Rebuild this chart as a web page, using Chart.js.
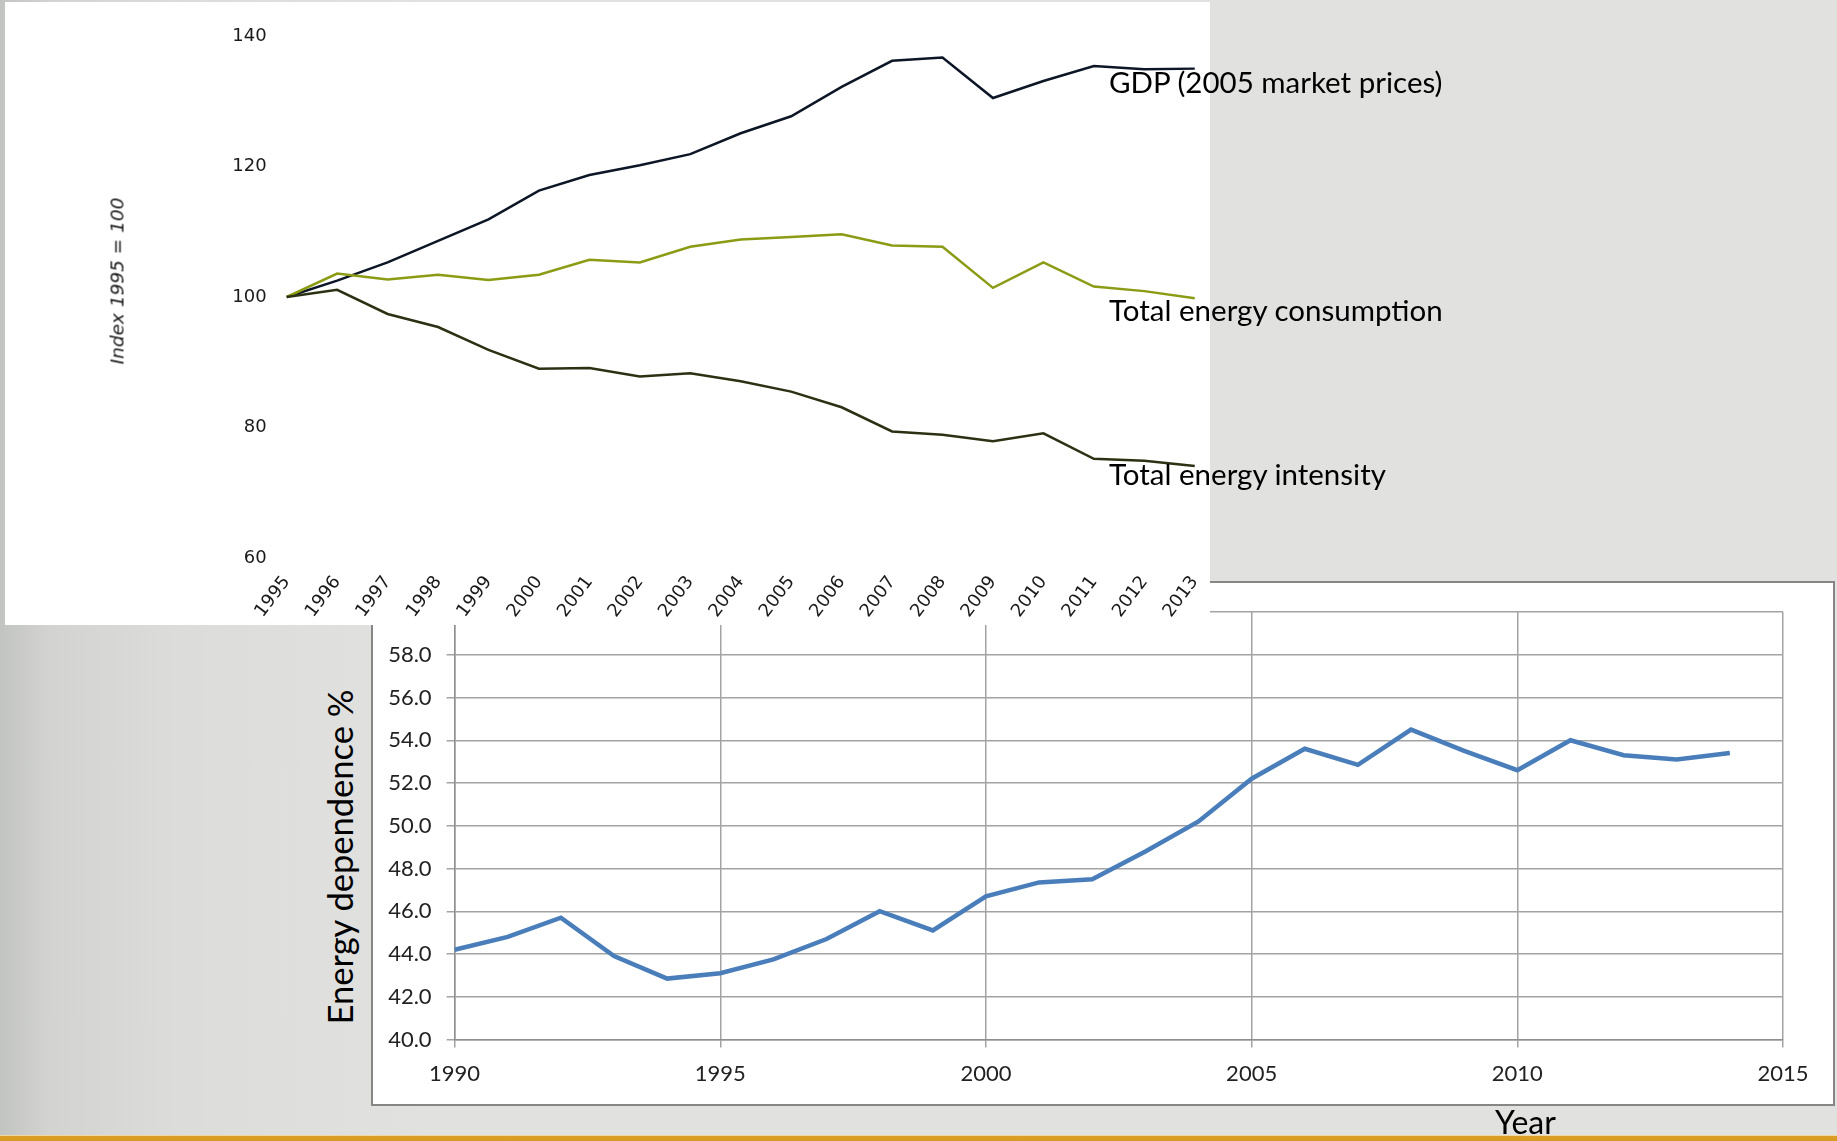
<!DOCTYPE html>
<html>
<head>
<meta charset="utf-8">
<script src="https://cdn.jsdelivr.net/npm/chart.js@4.4.1/dist/chart.umd.min.js"></script>
<style>
  html, body { margin: 0; padding: 0; }
  body {
    width: 1837px; height: 1141px; position: relative; overflow: hidden;
    background: linear-gradient(to right, #c2c4c2 0px, #d3d4d2 50px, #dcdddb 180px, #e1e2e0 420px, #e1e2e0 100%);
  }
  #indexBox { position: absolute; left: 5px; top: 2px; width: 1205px; height: 623px; background: #fff; z-index: 2; }
  /* canvas is a little wider than the white box so the rotated labels don't squeeze the plot */
  #indexWrap { position: absolute; left: 5px; top: 2px; width: 1221px; height: 623px; z-index: 3; }
  #depBox {
    position: absolute; left: 371px; top: 581px; width: 1464px; height: 525px;
    box-sizing: border-box; border: 2px solid #868686; background: #fff; z-index: 1;
  }
  .note { position: absolute; font-family: Lato, sans-serif; color: #000; white-space: nowrap; line-height: 1; z-index: 5; }
  .vtitle { position: absolute; white-space: nowrap; line-height: 1; transform: translate(-50%, -50%) rotate(-90deg); }
  #stripe {
    position: absolute; left: 0; top: 1135px; width: 1837px; height: 6px; z-index: 6;
    background: linear-gradient(#efd8a2 0px, #efd8a2 1px, #dc9e26 1px, #d99a1f 100%);
  }
</style>
</head>
<body>

<div id="depBox"><canvas id="dependenceChart"></canvas></div>
<div id="indexBox"></div>
<div id="indexWrap"><canvas id="indexChart"></canvas></div>

<div class="vtitle" style="left:117px; top:281px; z-index:4; font: italic 18.5px 'DejaVu Sans'; color:#1a1a1a;">Index 1995 = 100</div>
<div class="vtitle" style="left:339px; top:857px; z-index:4; font: 34.5px Lato; color:#000;">Energy dependence %</div>

<div class="note" style="left:1109px; top:67px; font-size:29.5px;">GDP (2005 market prices)</div>
<div class="note" style="left:1109px; top:295px; font-size:29.5px;">Total energy consumption</div>
<div class="note" style="left:1109px; top:459px; font-size:29.5px;">Total energy intensity</div>
<div class="note" style="left:1495px; top:1106px; font-size:32px;">Year</div>

<div id="stripe"></div>

<script>
// top chart: index 1995 = 100
const indexYears = ['1995', '1996', '1997', '1998', '1999', '2000', '2001', '2002', '2003', '2004',
    '2005', '2006', '2007', '2008', '2009', '2010', '2011', '2012', '2013'];
const gdp = [100, 102.5, 105.3, 108.6, 111.9, 116.3, 118.7, 120.2, 121.9, 125.1,
    127.7, 132.2, 136.2, 136.7, 130.5, 133.1, 135.4, 134.9, 135.0];
const energyConsumption = [100, 103.6, 102.7, 103.4, 102.6, 103.4, 105.7, 105.3, 107.7, 108.8,
    109.2, 109.6, 107.9, 107.7, 101.4, 105.3, 101.6, 100.9, 99.8];
const energyIntensity = [100, 101.1, 97.4, 95.4, 91.9, 89.0, 89.1, 87.8, 88.3, 87.1,
    85.5, 83.1, 79.4, 78.9, 77.9, 79.1, 75.2, 74.9, 74.1];
const indexTicks = [60, 80, 100, 120, 140];

// bottom chart: energy dependence
const depYears = [1990, 1991, 1992, 1993, 1994, 1995, 1996, 1997, 1998, 1999, 2000, 2001, 2002,
    2003, 2004, 2005, 2006, 2007, 2008, 2009, 2010, 2011, 2012, 2013, 2014];
const dependence = [44.2, 44.8, 45.7, 43.9, 42.85, 43.1, 43.75, 44.7, 46.0, 45.1, 46.7, 47.35, 47.5,
    48.8, 50.2, 52.2, 53.6, 52.85, 54.5, 53.5, 52.6, 54.0, 53.3, 53.1, 53.4];
const depXTicks = [1990, 1995, 2000, 2005, 2010, 2015];
const depYTicks = [40, 42, 44, 46, 48, 50, 52, 54, 56, 58, 60];

(function () {
    const lineSet = (data, color) => ({
        data: data,
        borderColor: color,
        borderWidth: 2.5,
        pointRadius: 0,
        tension: 0,
        fill: false
    });
    new Chart(document.querySelector('#indexChart'), {
        type: 'line',
        data: {
            labels: indexYears,
            datasets: [
                lineSet(energyIntensity, '#2b3113'),
                lineSet(energyConsumption, '#8b9b14'),
                lineSet(gdp, '#0d1626')
            ]
        },
        options: {
            responsive: true,
            maintainAspectRatio: false,
            animation: false,
            layout: { padding: { left: 0, right: 17, top: 34, bottom: 0 } },
            scales: {
                x: {
                    grid: { display: false, drawTicks: false },
                    border: { display: false },
                    afterFit: (s) => { s.height = 67; },
                    ticks: {
                        autoSkip: false,
                        maxRotation: 53,
                        minRotation: 53,
                        padding: 14,
                        color: '#1a1a1a',
                        font: { family: 'DejaVu Sans', size: 18 }
                    }
                },
                y: {
                    min: 60,
                    max: 140,
                    grid: { display: false, drawTicks: false },
                    border: { display: false },
                    afterFit: (s) => { s.width = 281.7; },
                    afterBuildTicks: (s) => { s.ticks = indexTicks.map(v => ({ value: v })); },
                    ticks: {
                        padding: 20,
                        color: '#1a1a1a',
                        font: { family: 'DejaVu Sans', size: 18 }
                    }
                }
            },
            plugins: {
                legend: { display: false },
                tooltip: { enabled: false }
            }
        }
    });
})();

(function () {
    new Chart(document.querySelector('#dependenceChart'), {
        type: 'line',
        data: {
            datasets: [{
                data: depYears.map((yr, i) => ({ x: yr, y: dependence[i] })),
                borderColor: '#4a7ebb',
                borderWidth: 4.5,
                pointRadius: 0,
                tension: 0,
                fill: false
            }]
        },
        options: {
            responsive: true,
            maintainAspectRatio: false,
            animation: false,
            layout: { padding: { left: 0, right: 50, top: 29, bottom: 0 } },
            scales: {
                x: {
                    type: 'linear',
                    min: 1990,
                    max: 2015,
                    grid: { color: '#a3a3a3', lineWidth: 1.5, tickLength: 8 },
                    border: { color: '#8f8f8f', width: 1.5 },
                    afterFit: (s) => { s.height = 64.5; },
                    afterBuildTicks: (s) => { s.ticks = depXTicks.map(v => ({ value: v })); },
                    ticks: {
                        padding: 13,
                        color: '#222',
                        font: { family: 'Lato', size: 22 },
                        callback: (v) => String(v)
                    }
                },
                y: {
                    min: 40,
                    max: 60,
                    grid: { color: '#a3a3a3', lineWidth: 1.5, tickLength: 8 },
                    border: { color: '#8f8f8f', width: 1.5 },
                    afterFit: (s) => { s.width = 81.6; },
                    afterBuildTicks: (s) => { s.ticks = depYTicks.map(v => ({ value: v })); },
                    ticks: {
                        padding: 15,
                        color: '#222',
                        font: { family: 'Lato', size: 22 },
                        callback: (v) => v.toFixed(1)
                    }
                }
            },
            plugins: {
                legend: { display: false },
                tooltip: { enabled: false }
            }
        }
    });
})();
</script>
</body>
</html>
